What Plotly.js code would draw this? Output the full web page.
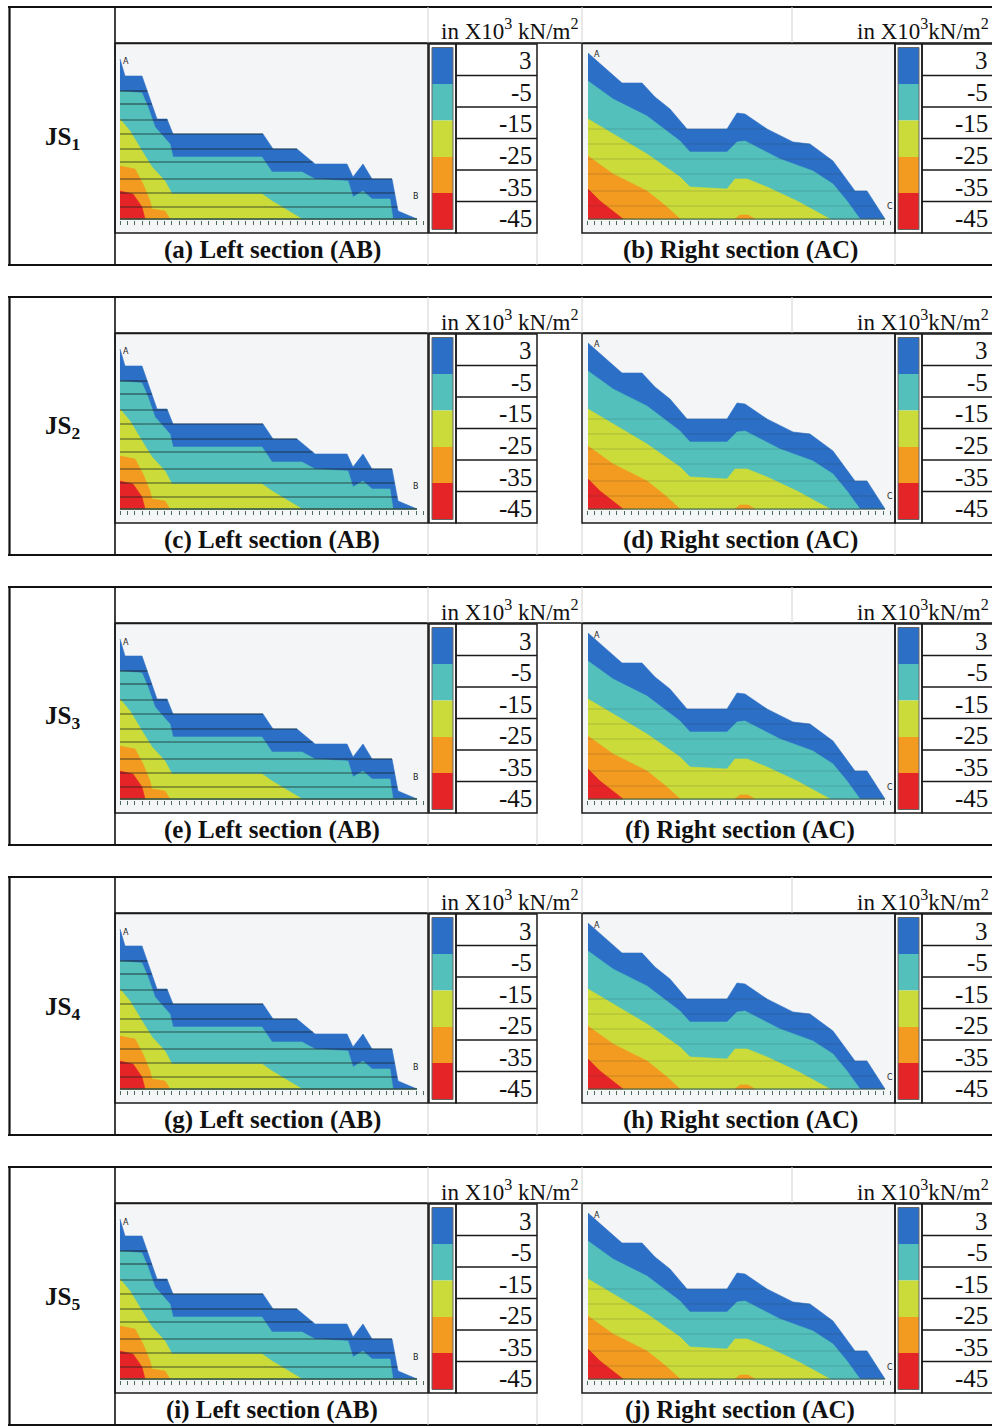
<!DOCTYPE html>
<html>
<head>
<meta charset="utf-8">
<script src="https://cdn.plot.ly/plotly-3.0.1.min.js"></script>
<style>html,body{margin:0;padding:0;background:#fff}</style>
</head>
<body>
<div id="chart" style="width:992px;height:1426px"></div>
<script>
// ---------------- DATA ----------------
const rowNames = ['JS<sub>1</sub>', 'JS<sub>2</sub>', 'JS<sub>3</sub>', 'JS<sub>4</sub>', 'JS<sub>5</sub>'];
const leftCaptions = ['(a) Left section (AB)', '(c) Left section (AB)', '(e) Left section (AB)', '(g) Left section (AB)', '(i) Left section (AB)'];
const rightCaptions = ['(b) Right section (AC)', '(d) Right section (AC)', '(f) Right section (AC)', '(h) Right section (AC)', '(j) Right section (AC)'];
const legendLevels = ['3', '-5', '-15', '-25', '-35', '-45'];
const bandColors = ['#2c6fc6', '#53c0bc', '#cbdb3a', '#f39a20', '#e42427'];
const unitLeft = 'in X10<sup>3</sup> kN/m<sup>2</sup>';
const unitRight = 'in X10<sup>3</sup>kN/m<sup>2</sup>';

// Left section (AB): band boundaries (distance, elevation)
const abTopX = [5, 10, 27, 42, 52, 58, 148, 158, 182, 200, 232, 238, 248, 257, 277, 283, 302];
const abTopY = [160, 143, 143, 100, 100, 85, 85, 70, 70, 55, 55, 42, 55, 40, 40, 8, 0];
const abCyanX = [5, 27, 33, 40, 55, 58, 147, 157, 187, 200, 233, 238, 248, 257, 275, 278];
const abCyanY = [128, 126, 112, 92, 75, 62, 62, 47, 47, 40, 38, 22, 28, 20, 20, 0];
const abYellowX = [5, 15, 27, 37, 50, 57, 147, 157, 187];
const abYellowY = [100, 88, 68, 52, 38, 25, 25, 18, 0];
const abOrangeX = [5, 20, 28, 35, 37, 50, 55];
const abOrangeY = [53, 50, 35, 18, 10, 8, 0];
const abRedX = [5, 18, 27, 30];
const abRedY = [28, 25, 12, 0];
const abLayerY = [12, 26, 40, 57, 70, 85, 99, 115, 128];

// Right section (AC)
const acTopX = [6, 40, 60, 73, 88, 105, 145, 155, 163, 185, 211, 228, 251, 273, 285, 303];
const acTopY = [166, 136, 136, 122, 110, 90, 90, 106, 105, 90, 77, 75, 58, 28, 28, 0];
const acCyanX = [6, 31, 65, 98, 108, 145, 155, 163, 198, 231, 251, 265, 278];
const acCyanY = [138, 120, 103, 78, 67, 67, 77, 78, 60, 48, 35, 18, 0];
const acYellowX = [6, 31, 65, 98, 108, 145, 153, 165, 185, 215, 248];
const acYellowY = [100, 85, 65, 42, 32, 30, 40, 40, 32, 18, 0];
const acOrangeX = [6, 31, 65, 85, 98];
const acOrangeY = [63, 45, 28, 12, 0];
const acRedX = [6, 18, 41];
const acRedY = [30, 18, 0];
const acBlobX = [153, 158, 166, 173];
const acBlobY = [0, 4, 4, 0];
const acLayerY = [13, 28, 45, 60, 75, 90];

// ---------------- BUILD ----------------
const W = 992, H = 1426, ROW = 290;
const px = x => x / W;
const py = y => 1 - y / H;
const FONT = 'Liberation Serif, Times New Roman, serif';

const traces = [];
const shapes = [];
const annotations = [];
const layout = {
  width: W, height: H, margin: {l: 0, r: 0, t: 0, b: 0},
  paper_bgcolor: '#ffffff', plot_bgcolor: 'rgba(0,0,0,0)', showlegend: false,
  font: {family: FONT, color: '#111'}
};

function axisNames(i) {
  return {xa: i === 1 ? 'xaxis' : 'xaxis' + i, ya: i === 1 ? 'yaxis' : 'yaxis' + i,
          x: i === 1 ? 'x' : 'x' + i, y: i === 1 ? 'y' : 'y' + i};
}
function addAxes(i, x0, x1, yTop, yBot) {
  const n = axisNames(i);
  layout[n.xa] = {domain: [px(x0), px(x1)], range: [0, 313], anchor: n.y,
    showgrid: false, zeroline: false, showline: false, ticks: 'outside', ticklen: 4,
    tickwidth: 1, tickcolor: '#4d6b5b', tick0: 5, dtick: 7.4, showticklabels: false, fixedrange: true};
  layout[n.ya] = {domain: [py(yBot), py(yTop)], range: [-1, 175], anchor: n.x,
    visible: false, fixedrange: true};
  return n;
}
function band(xs, ys, color, n) {
  traces.push({type: 'scatter', mode: 'lines', x: xs.concat([xs[0]]), y: ys.concat([0]),
    fill: 'toself', fillcolor: color, line: {width: 0.6, color: color},
    hoverinfo: 'skip', xaxis: n.x, yaxis: n.y});
}
function surfaceEnd(sx, sy, y) {
  let best = sx[0];
  for (let i = 0; i < sx.length - 1; i++) {
    const a = sy[i], b = sy[i + 1];
    if ((a - y) * (b - y) <= 0) {
      const xx = a === b ? sx[i + 1] : sx[i] + (y - a) * (sx[i + 1] - sx[i]) / (b - a);
      if (xx > best) best = xx;
    }
  }
  return best;
}
function layers(sx, sy, levels, color, width, n) {
  const x = [], y = [];
  levels.forEach(l => { x.push(sx[0], surfaceEnd(sx, sy, l), null); y.push(l, l, null); });
  traces.push({type: 'scatter', mode: 'lines', x: x, y: y, line: {color: color, width: width},
    hoverinfo: 'skip', xaxis: n.x, yaxis: n.y});
}
function line(x0, y0, x1, y1, color, w) {
  shapes.push({type: 'line', xref: 'paper', yref: 'paper', x0: px(x0), y0: py(y0), x1: px(x1), y1: py(y1),
    line: {color: color, width: w}, layer: 'above'});
}
function rect(x0, y0, x1, y1, fill, lineColor, w, layer) {
  shapes.push({type: 'rect', xref: 'paper', yref: 'paper', x0: px(x0), y0: py(y0), x1: px(x1), y1: py(y1),
    fillcolor: fill, line: {color: lineColor, width: w}, layer: layer || 'above'});
}
function text(x, y, t, size, xanchor, bold) {
  annotations.push({xref: 'paper', yref: 'paper', x: px(x), y: py(y), text: bold ? '<b>' + t + '</b>' : t,
    showarrow: false, xanchor: xanchor, yanchor: 'middle', font: {family: FONT, size: size, color: '#111'}});
}
function legendTable(stripL, valL, valR, textX, R) {
  rect(stripL, 44 + R, valL, 233 + R, 'rgba(0,0,0,0)', '#1a1a1a', 1.5);
  const cell = [47.5, 84, 120.5, 157, 193, 229.5];
  for (let k = 0; k < 5; k++) {
    rect(stripL + 3, cell[k] + R, valL - 3, cell[k + 1] + R, bandColors[k], 'rgba(0,0,0,0)', 0);
  }
  rect(stripL + 3, cell[0] + R, valL - 3, cell[5] + R, 'rgba(0,0,0,0)', '#666', 1);
  rect(valL, 44 + R, valR, 233 + R, 'rgba(0,0,0,0)', '#1a1a1a', 1.5);
  for (let k = 0; k < 6; k++) {
    if (k > 0) line(valL, 44 + 31.5 * k + R, valR, 44 + 31.5 * k + R, '#1a1a1a', 1.5);
    text(textX, 61 + 31.5 * k + R, legendLevels[k], 25, 'right', false);
  }
}
function pointLabel(n, x, y, t) {
  annotations.push({xref: n.x, yref: n.y, x: x, y: y, text: t, showarrow: false,
    font: {family: 'DejaVu Sans', size: 8, color: '#222'}});
}

for (let r = 0; r < 5; r++) {
  const R = ROW * r;
  // table frame
  line(8, 7 + R, 992, 7 + R, '#111', 2.2);
  line(8, 265 + R, 992, 265 + R, '#111', 2.2);
  line(9.5, 7 + R, 9.5, 265 + R, '#111', 2.2);
  line(115, 7 + R, 115, 265 + R, '#111', 1.6);
  line(115, 43 + R, 992, 43 + R, '#111', 1.6);
  // light grid remnants
  [[428, 7, 43], [428, 233, 265], [537, 233, 265], [582, 7, 43], [582, 233, 265], [792, 7, 43], [895, 233, 265]]
    .forEach(g => line(g[0], g[1] + R, g[0], g[2] + R, '#d2d2d2', 1));
  // plot boxes
  rect(115, 43.5 + R, 428, 233 + R, '#f4f5f6', 'rgba(0,0,0,0)', 0, 'below');
  rect(582, 43.5 + R, 895, 233 + R, '#f4f5f6', 'rgba(0,0,0,0)', 0, 'below');
  rect(115, 43.5 + R, 428, 233 + R, 'rgba(0,0,0,0)', '#1a1a1a', 1.5);
  rect(582, 43.5 + R, 895, 233 + R, 'rgba(0,0,0,0)', '#1a1a1a', 1.5);

  // left section
  const nL = addAxes(2 * r + 1, 115, 428, 44 + R, 220 + R);
  band(abTopX, abTopY, bandColors[0], nL);
  band(abCyanX, abCyanY, bandColors[1], nL);
  band(abYellowX, abYellowY, bandColors[2], nL);
  band(abOrangeX, abOrangeY, bandColors[3], nL);
  band(abRedX, abRedY, bandColors[4], nL);
  layers(abTopX, abTopY, abLayerY, 'rgba(25,35,35,0.75)', 1.2, nL);
  traces.push({type: 'scatter', mode: 'lines', x: [abTopX[0], abTopX[abTopX.length - 1]], y: [0, 0],
    line: {color: '#2f4f40', width: 1.4}, hoverinfo: 'skip', xaxis: nL.x, yaxis: nL.y});
  pointLabel(nL, 11, 157, 'A');
  pointLabel(nL, 301, 22, 'B');

  // right section
  const nR = addAxes(2 * r + 2, 582, 895, 44 + R, 220 + R);
  band(acTopX, acTopY, bandColors[0], nR);
  band(acCyanX, acCyanY, bandColors[1], nR);
  band(acYellowX, acYellowY, bandColors[2], nR);
  band(acOrangeX, acOrangeY, bandColors[3], nR);
  band(acRedX, acRedY, bandColors[4], nR);
  band(acBlobX, acBlobY, bandColors[3], nR);
  layers(acTopX, acTopY, acLayerY, 'rgba(40,50,50,0.2)', 1, nR);
  traces.push({type: 'scatter', mode: 'lines', x: [acTopX[0], acTopX[acTopX.length - 1]], y: [0, 0],
    line: {color: '#3a5a4a', width: 1}, hoverinfo: 'skip', xaxis: nR.x, yaxis: nR.y});
  pointLabel(nR, 15, 164, 'A');
  pointLabel(nR, 308, 12, 'C');

  // legends
  legendTable(429, 456, 537, 534, R);
  legendTable(895, 922, 993, 990, R);

  // texts
  text(62, 138 + R, rowNames[r], 25, 'center', true);
  text(580, 30 + R, unitLeft, 23, 'right', false);
  text(991, 30 + R, unitRight, 23, 'right', false);
  text(272, 250 + R, leftCaptions[r], 25, 'center', true);
  text(740, 250 + R, rightCaptions[r], 25, 'center', true);
}

layout.shapes = shapes;
layout.annotations = annotations;
Plotly.newPlot('chart', traces, layout, {staticPlot: true, displayModeBar: false});
</script>
</body>
</html>
